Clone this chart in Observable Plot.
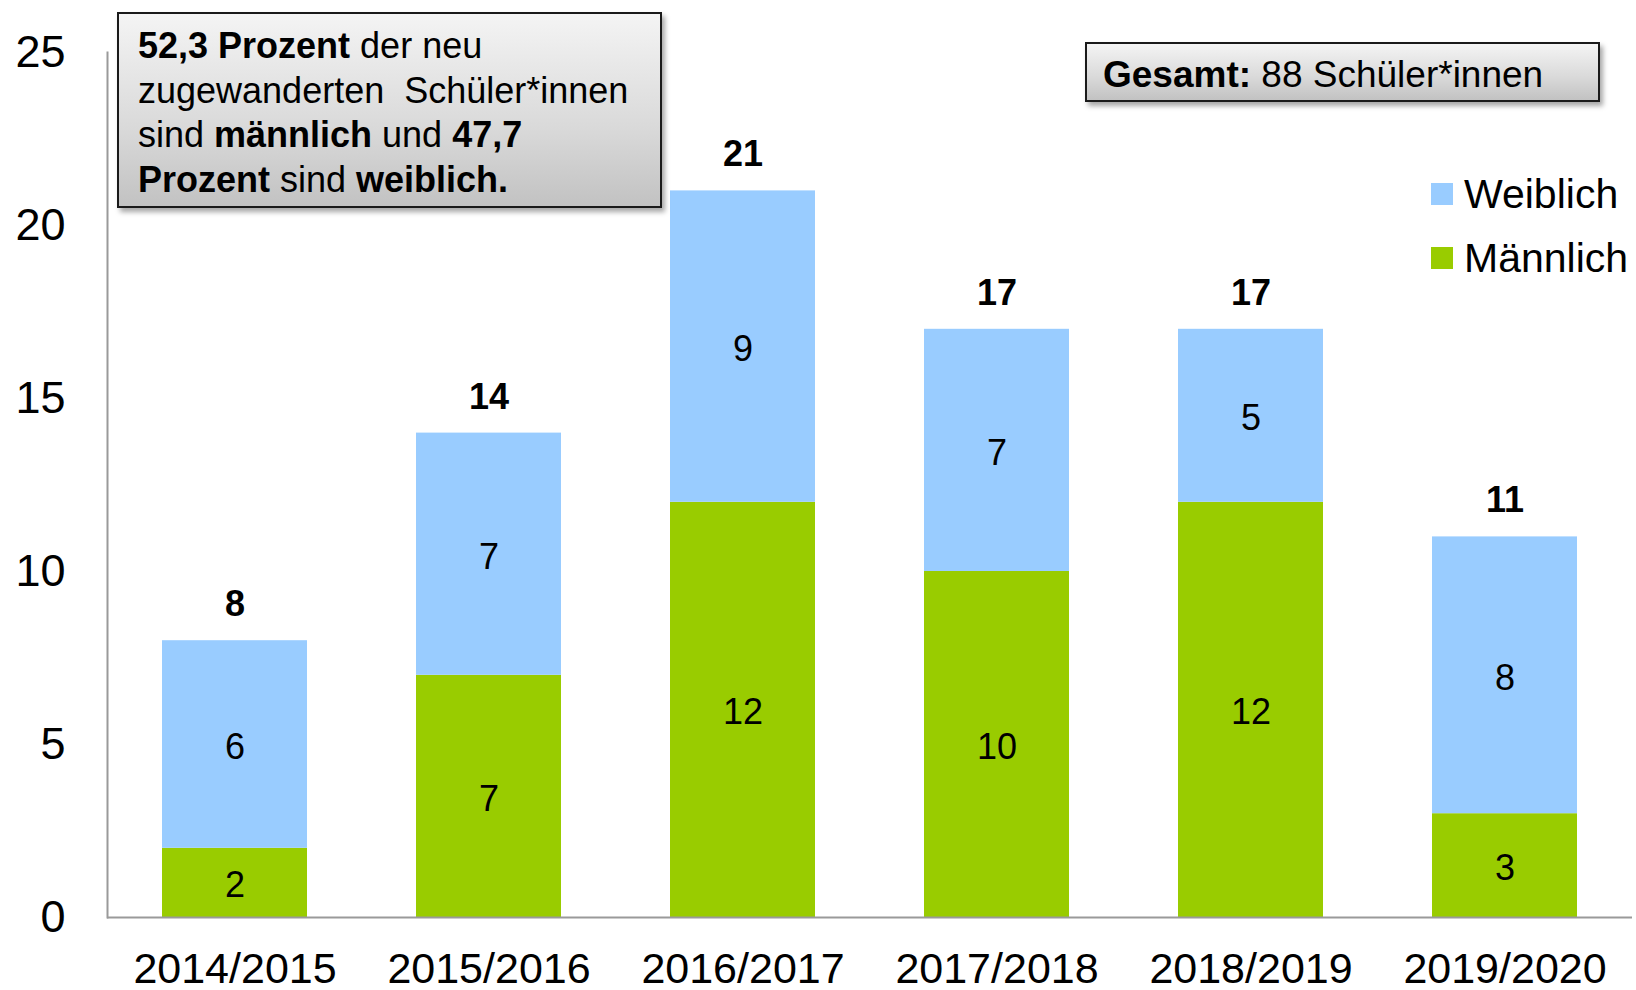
<!DOCTYPE html>
<html>
<head>
<meta charset="utf-8">
<script src="https://cdn.jsdelivr.net/npm/d3@7"></script>
<script src="https://cdn.jsdelivr.net/npm/@observablehq/plot@0.6"></script>
<style>
  html, body { margin: 0; padding: 0; background: #fff; }
  #wrap { position: relative; width: 1636px; height: 990px; font-family: "Liberation Sans", Arial, sans-serif; color: #000; }
  #chart { position: absolute; left: 0; top: 0; }
  .box {
    position: absolute; box-sizing: border-box;
    border: 2px solid #1a1a1a;
    background: linear-gradient(to bottom, #f4f4f4 0%, #d9d9d9 60%, #c2c2c2 100%);
    box-shadow: 3px 4px 5px rgba(0,0,0,0.35);
  }
  #note { left: 117px; top: 12px; width: 545px; height: 196px; padding: 10px 0 0 19px; font-size: 36px; line-height: 44.6px; }
  #total { left: 1085px; top: 42px; width: 515px; height: 60px; padding: 3px 0 0 16px; font-size: 37px; line-height: 56px; }
  .legend { position: absolute; left: 1431px; font-size: 41px; line-height: 48px; display: flex; align-items: center; }
  .legend .sw { width: 22px; height: 22px; margin-right: 11px; }
</style>
</head>
<body>
<div id="wrap">
  <div id="chart"></div>
  <div class="box" id="note"><b>52,3 Prozent</b> der neu<br>zugewanderten&nbsp; Schüler*innen<br>sind <b>männlich</b> und <b>47,7</b><br><b>Prozent</b> sind <b>weiblich.</b></div>
  <div class="box" id="total"><b>Gesamt:</b> 88 Schüler*innen</div>
  <div class="legend" id="lgW" style="top:170px"><div class="sw" id="swW"></div><span id="lbW"></span></div>
  <div class="legend" id="lgM" style="top:234px"><div class="sw" id="swM"></div><span id="lbM"></span></div>
</div>
<script>
// ---- data ----
const years = ["2014/2015", "2015/2016", "2016/2017", "2017/2018", "2018/2019", "2019/2020"];
const maennlich = [2, 7, 12, 10, 12, 3];
const weiblich = [6, 7, 9, 7, 5, 8];
const totals = [8, 14, 21, 17, 17, 11];
const yTicks = [0, 5, 10, 15, 20, 25];
const seriesNames = ["Weiblich", "Männlich"];
const seriesColors = ["#99CCFF", "#99CC00"];

// ---- tables built from arrays ----
const data = years.flatMap((y, i) => [
  {year: y, sex: "Männlich", value: maennlich[i]},
  {year: y, sex: "Weiblich", value: weiblich[i]}
]);
const totalData = years.map((y, i) => ({year: y, total: totals[i]}));

const chart = Plot.plot({
  width: 1636,
  height: 990,
  marginLeft: 107,
  marginRight: 4,
  marginTop: 52,
  marginBottom: 73,
  style: {fontFamily: "'Liberation Sans', Arial, sans-serif", background: "transparent", color: "#000", overflow: "visible"},
  x: {domain: years, paddingInner: 0.43, paddingOuter: 0.215, label: null},
  y: {domain: [0, 25], label: null},
  color: {domain: seriesNames, range: seriesColors},
  marks: [
    Plot.barY(data, {x: "year", y: "value", fill: "sex"}),
    Plot.text(data, Plot.stackY({x: "year", y: "value", z: "sex", text: d => String(d.value), dy: 3, fontSize: 36, fill: "#000"})),
    Plot.text(totalData, {x: "year", y: "total", text: d => String(d.total), dy: -36, fontSize: 36, fontWeight: "bold", fill: "#000"}),
    Plot.axisX({tickSize: 0, tickPadding: 35, fontSize: 43, label: null}),
    Plot.axisY({ticks: yTicks, tickSize: 0, tickPadding: 42, fontSize: 45, label: null}),
    Plot.ruleY([0], {stroke: "#9a9a9a", strokeWidth: 2}),
    Plot.frame({anchor: "left", stroke: "#9a9a9a", strokeWidth: 2})
  ]
});
document.getElementById("chart").appendChild(chart);

document.getElementById("swW").style.background = seriesColors[0];
document.getElementById("swM").style.background = seriesColors[1];
document.getElementById("lbW").textContent = seriesNames[0];
document.getElementById("lbM").textContent = seriesNames[1];
</script>
</body>
</html>
